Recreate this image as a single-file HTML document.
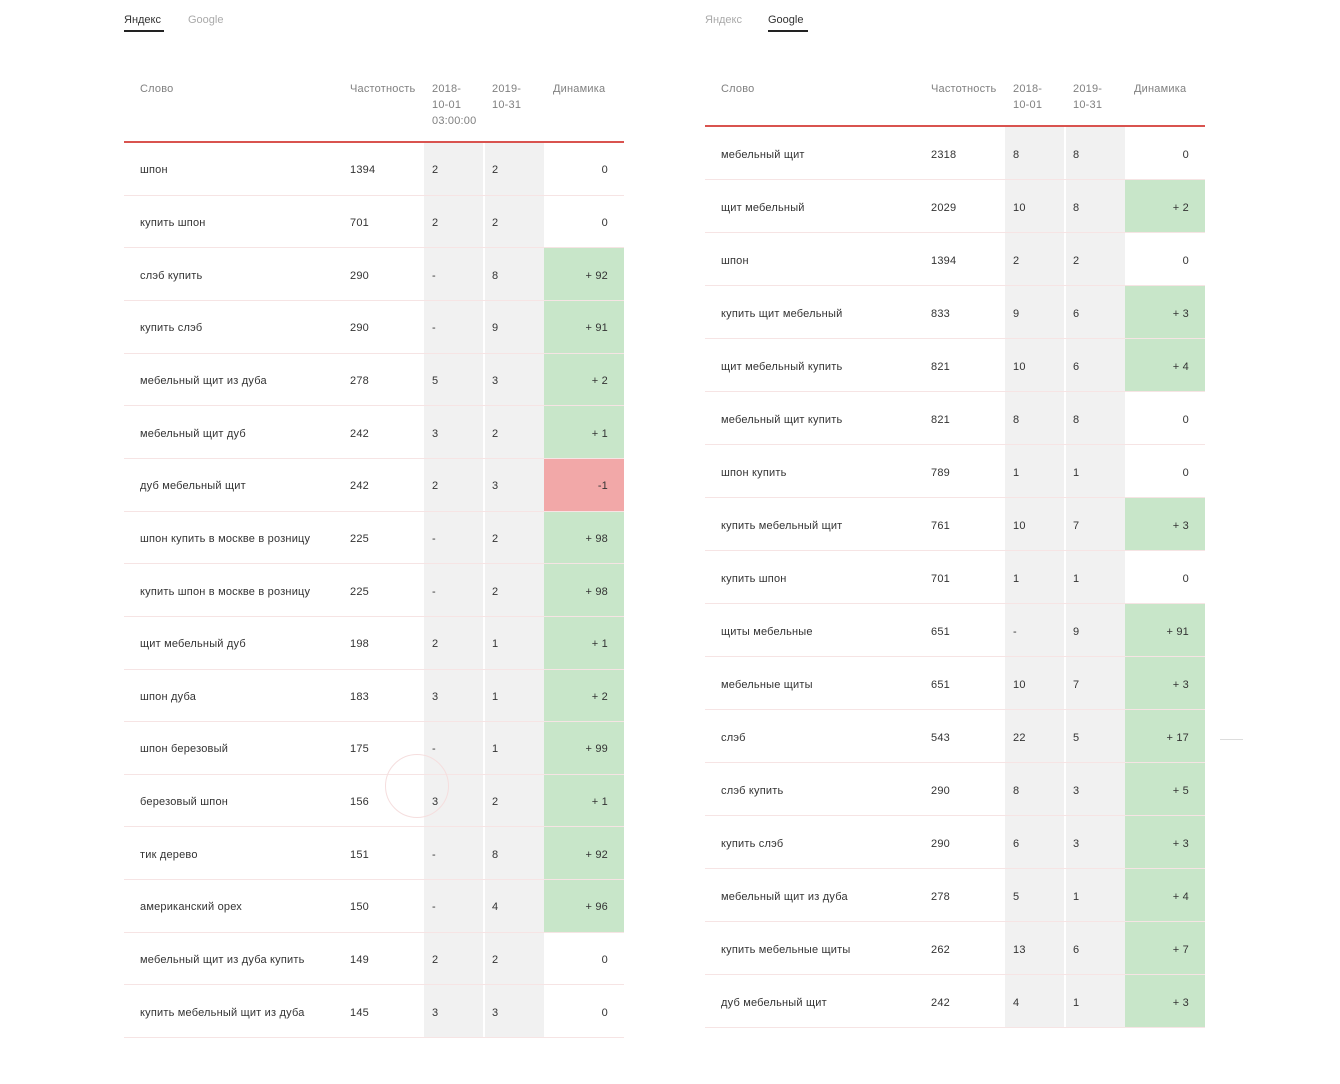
<!DOCTYPE html>
<html><head><meta charset="utf-8"><style>
body{margin:0;width:1340px;height:1084px;background:#fff;position:relative;overflow:hidden;font-family:"Liberation Sans","DejaVu Sans",sans-serif;}
.a{position:absolute;white-space:nowrap;}
.t{font-size:11px;color:#333;letter-spacing:0.2px;}
.h{font-size:11px;color:#808080;line-height:16px;letter-spacing:0.2px;}
.tab{font-size:11px;}
</style></head><body>
<div class="a tab" style="left:124px;top:14px;color:#333">Яндекс</div>
<div class="a" style="left:124px;top:30px;width:40px;height:2px;background:#222"></div>
<div class="a tab" style="left:188px;top:14px;color:#aaa">Google</div>
<div class="a tab" style="left:705px;top:14px;color:#aaa">Яндекс</div>
<div class="a tab" style="left:768px;top:14px;color:#333">Google</div>
<div class="a" style="left:768px;top:30px;width:40px;height:2px;background:#222"></div>
<div class="a" style="left:1220px;top:739px;width:23px;height:1px;background:#ddd"></div>
<div id="root"></div>
<div class="a" style="left:385px;top:754px;width:62px;height:62px;border:1px solid #f5dede;border-radius:50%"></div>
<script>
function build(o){
  var r=document.getElementById('root'),h='';
  var x=o.x;
  h+='<div class="a h" style="left:'+(x+16)+'px;top:81px">Слово</div>';
  h+='<div class="a h" style="left:'+(x+226)+'px;top:81px">Частотность</div>';
  h+='<div class="a h" style="left:'+(x+308)+'px;top:81px">'+o.d1+'</div>';
  h+='<div class="a h" style="left:'+(x+368)+'px;top:81px">2019-<br>10-31</div>';
  h+='<div class="a h" style="left:'+(x+429)+'px;top:81px">Динамика</div>';
  h+='<div class="a" style="left:'+x+'px;top:'+o.ly+'px;width:500px;height:2px;background:#d9534f"></div>';
  var y0=o.ly+2,n=o.rows.length,rh=o.rh,tot=n*rh;
  h+='<div class="a" style="left:'+(x+300)+'px;top:'+y0+'px;width:59px;height:'+tot+'px;background:#f1f1f1"></div>';
  h+='<div class="a" style="left:'+(x+361)+'px;top:'+y0+'px;width:59px;height:'+tot+'px;background:#f1f1f1"></div>';
  o.rows.forEach(function(w,i){
    var y=y0+i*rh,cy=y+rh/2-5;
    var d=w[4];
    if(d!='0'){var c=d[0]=='-'?'#f2a8a8':'#c8e6c9';
      h+='<div class="a" style="left:'+(x+420)+'px;top:'+y+'px;width:80px;height:'+rh+'px;background:'+c+'"></div>';}
    h+='<div class="a" style="left:'+x+'px;top:'+(y+rh-1)+'px;width:500px;height:1px;background:#f6e4e4"></div>';
    h+='<div class="a t" style="left:'+(x+16)+'px;top:'+cy+'px">'+w[0]+'</div>';
    h+='<div class="a t" style="left:'+(x+226)+'px;top:'+cy+'px">'+w[1]+'</div>';
    h+='<div class="a t" style="left:'+(x+308)+'px;top:'+cy+'px">'+w[2]+'</div>';
    h+='<div class="a t" style="left:'+(x+368)+'px;top:'+cy+'px">'+w[3]+'</div>';
    h+='<div class="a t" style="right:'+(1340-x-484)+'px;top:'+cy+'px">'+d+'</div>';
  });
  r.insertAdjacentHTML('beforeend',h);
}
build({x:124,ly:141,rh:52.65,d1:'2018-<br>10-01<br>03:00:00',rows:[
['шпон','1394','2','2','0'],['купить шпон','701','2','2','0'],['слэб купить','290','-','8','+ 92'],['купить слэб','290','-','9','+ 91'],
['мебельный щит из дуба','278','5','3','+ 2'],['мебельный щит дуб','242','3','2','+ 1'],['дуб мебельный щит','242','2','3','-1'],
['шпон купить в москве в розницу','225','-','2','+ 98'],['купить шпон в москве в розницу','225','-','2','+ 98'],['щит мебельный дуб','198','2','1','+ 1'],
['шпон дуба','183','3','1','+ 2'],['шпон березовый','175','-','1','+ 99'],['березовый шпон','156','3','2','+ 1'],['тик дерево','151','-','8','+ 92'],
['американский орех','150','-','4','+ 96'],['мебельный щит из дуба купить','149','2','2','0'],['купить мебельный щит из дуба','145','3','3','0']]});
build({x:705,ly:125,rh:53,d1:'2018-<br>10-01',rows:[
['мебельный щит','2318','8','8','0'],['щит мебельный','2029','10','8','+ 2'],['шпон','1394','2','2','0'],['купить щит мебельный','833','9','6','+ 3'],
['щит мебельный купить','821','10','6','+ 4'],['мебельный щит купить','821','8','8','0'],['шпон купить','789','1','1','0'],['купить мебельный щит','761','10','7','+ 3'],
['купить шпон','701','1','1','0'],['щиты мебельные','651','-','9','+ 91'],['мебельные щиты','651','10','7','+ 3'],['слэб','543','22','5','+ 17'],
['слэб купить','290','8','3','+ 5'],['купить слэб','290','6','3','+ 3'],['мебельный щит из дуба','278','5','1','+ 4'],['купить мебельные щиты','262','13','6','+ 7'],
['дуб мебельный щит','242','4','1','+ 3']]});
</script>
</body></html>
